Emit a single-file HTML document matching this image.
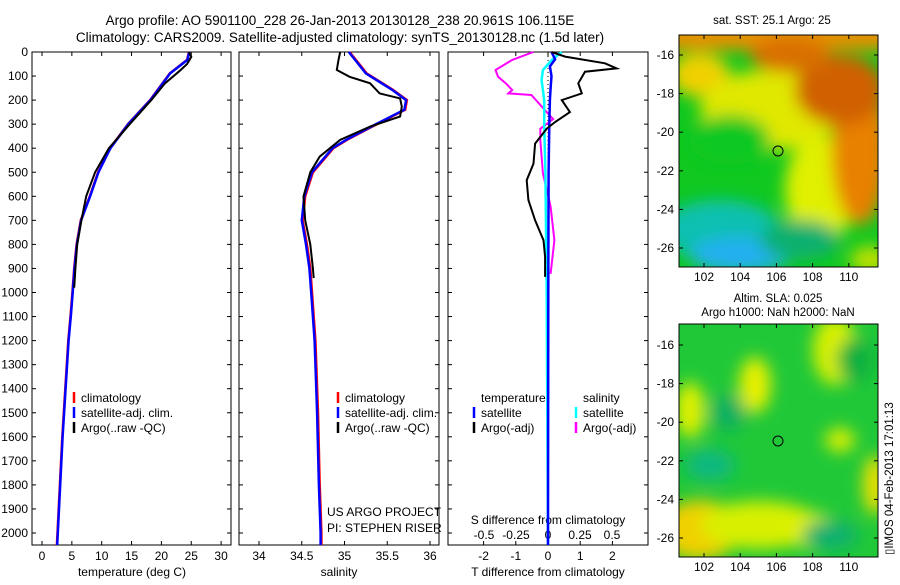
<!DOCTYPE html>
<html><head><meta charset="utf-8">
<style>
body{margin:0;background:#fff;width:900px;height:580px;overflow:hidden;font-family:"Liberation Sans",sans-serif;}
svg text{font-family:"Liberation Sans",sans-serif;fill:#000;}
</style></head>
<body>
<svg id="fig" width="900" height="580" xmlns="http://www.w3.org/2000/svg">
<defs>
<filter id="bl" x="-20%" y="-20%" width="140%" height="140%"><feGaussianBlur stdDeviation="8"/></filter>
<clipPath id="c1"><rect x="679" y="35" width="199" height="232"/></clipPath>
<clipPath id="c2"><rect x="679" y="324" width="199" height="233"/></clipPath>
</defs>
<text x="340" y="25" font-size="13.5" text-anchor="middle">Argo profile: AO 5901100_228 26-Jan-2013 20130128_238 20.961S 106.115E</text>
<text x="340" y="42" font-size="13.5" text-anchor="middle">Climatology: CARS2009. Satellite-adjusted climatology: synTS_20130128.nc (1.5d later)</text>

<g clip-path="url(#c1)">
<rect x="679" y="35" width="199" height="232" fill="#10c820"/>
<g filter="url(#bl)">
<rect x="660" y="20" width="240" height="30" fill="#e89000"/>
<ellipse cx="700" cy="75" rx="30" ry="22" fill="#f0d000"/>
<ellipse cx="770" cy="110" rx="70" ry="40" fill="#e0e800"/>
<ellipse cx="820" cy="190" rx="35" ry="55" fill="#e0f000"/>
<ellipse cx="860" cy="150" rx="28" ry="75" fill="#e88000"/>
<ellipse cx="840" cy="90" rx="45" ry="35" fill="#d06000"/>
<ellipse cx="790" cy="55" rx="40" ry="18" fill="#d87000"/>
<ellipse cx="730" cy="140" rx="40" ry="25" fill="#10c820"/>
<ellipse cx="720" cy="230" rx="60" ry="30" fill="#10c0b0"/>
<ellipse cx="740" cy="255" rx="50" ry="18" fill="#20b0f0"/>
<ellipse cx="800" cy="240" rx="40" ry="20" fill="#10b070"/>
<ellipse cx="870" cy="260" rx="20" ry="14" fill="#c0e000"/>
</g>
<circle cx="778" cy="151" r="5" fill="none" stroke="#000" stroke-width="1"/>
</g>
<rect x="679" y="35" width="199" height="232" fill="none" stroke="#000"/>
<text x="772" y="24" font-size="11.5" text-anchor="middle">sat. SST: 25.1 Argo: 25</text>

<g clip-path="url(#c2)">
<rect x="679" y="324" width="199" height="233" fill="#20c838"/>
<g filter="url(#bl)">
<ellipse cx="700" cy="530" rx="40" ry="30" fill="#f0d000"/>
<ellipse cx="760" cy="525" rx="60" ry="24" fill="#d8f000"/>
<ellipse cx="810" cy="530" rx="25" ry="18" fill="#e0f000"/>
<ellipse cx="755" cy="385" rx="16" ry="28" fill="#e8f000"/>
<ellipse cx="690" cy="410" rx="15" ry="28" fill="#e0f000"/>
<ellipse cx="835" cy="350" rx="22" ry="35" fill="#d8f000"/>
<ellipse cx="840" cy="440" rx="15" ry="12" fill="#d8f000"/>
<ellipse cx="875" cy="485" rx="12" ry="30" fill="#f0e000"/>
<ellipse cx="710" cy="465" rx="25" ry="16" fill="#10b880"/>
<ellipse cx="830" cy="535" rx="28" ry="15" fill="#10b070"/>
<ellipse cx="728" cy="413" rx="18" ry="18" fill="#10b060"/>
<ellipse cx="855" cy="360" rx="18" ry="22" fill="#10b040"/>
</g>
<circle cx="778" cy="441" r="5" fill="none" stroke="#000" stroke-width="1"/>
</g>
<rect x="679" y="324" width="199" height="233" fill="none" stroke="#000"/>
<text x="778" y="302" font-size="11.5" text-anchor="middle">Altim. SLA: 0.025</text>
<text x="778" y="316" font-size="11.5" text-anchor="middle">Argo h1000: NaN h2000: NaN</text>
<text transform="translate(893,555) rotate(-90)" font-size="11.5">▯IMOS 04-Feb-2013 17:01:13</text>
<g id="plots"></g>
</svg>
<script>
const depthTicks=[0,100,200,300,400,500,600,700,800,900,1000,1100,1200,1300,1400,1500,1600,1700,1800,1900,2000];
const tempTicks=[0,5,10,15,20,25,30];
const salTicks=[34,34.5,35,35.5,36];
const tdiffTicks=[-2,-1,0,1,2];
const sdiffTicks=[-0.5,-0.25,0,0.25,0.5];
const lonTicks=[102,104,106,108,110];
const latTicks=[-16,-18,-20,-22,-24,-26];
const climP=[0,33,89,200,300,400,500,600,700,800,900,1000,1090,1200,1400,1600,1800,2000,2050];
const climT=[24.6,24.3,21.4,18.1,14.4,11.4,9.4,8.0,6.5,5.8,5.4,5.1,4.8,4.4,3.9,3.4,3.0,2.6,2.5];
const argoTP=[0,20,50,80,130,200,300,400,500,600,700,800,900,980];
const argoT=[24.6,25.0,24.3,23.0,20.6,18.3,14.7,11.2,8.9,7.4,6.6,5.9,5.6,5.4];
const climSP=[0,89,158,200,240,300,365,400,500,600,700,800,900,1000,1200,1500,1800,2000,2050];
const climS=[35.06,35.26,35.57,35.73,35.71,35.38,35.03,34.87,34.63,34.54,34.51,34.56,34.6,34.62,34.66,34.69,34.71,34.73,34.73];
const argoSP=[0,33,75,103,130,172,193,227,268,310,365,435,500,600,700,800,900,940];
const argoS=[34.95,34.93,34.91,35.06,35.3,35.41,35.65,35.67,35.65,35.3,34.95,34.71,34.6,34.52,34.54,34.6,34.63,34.64];
const dTP=[0,19,47,68,82,130,172,200,250,291,319,381,464,533,616,700,783,852,935];
const dT=[0.11,0.53,1.77,2.13,1.15,0.94,1.05,0.43,0.68,0.22,-0.04,-0.40,-0.45,-0.66,-0.61,-0.40,-0.14,-0.09,-0.09];
const satTP=[0,30,60,100,150,200,300,500,1000,2050];
const satT=[0.11,0.22,0.06,0.11,0.08,0.06,0.04,0.02,0.01,0.0];
const dSP=[0,33,75,103,130,158,172,179,244,279,319,365,504,643,783,922];
const dS=[-0.115,-0.28,-0.41,-0.39,-0.33,-0.28,-0.31,-0.13,-0.02,0.04,-0.06,-0.06,-0.04,0.02,0.05,0.02];
const satSP=[0,33,75,117,200,300,500,1000,2050];
const satS=[0.107,0.03,-0.04,-0.05,-0.03,-0.03,-0.02,-0.01,0.0];

const NS="http://www.w3.org/2000/svg";
const root=document.getElementById('plots');
const yP=p=>52+p*0.2405;
const xT=t=>42+t*5.97;
const xS=s=>259+(s-34)*85.5;
const xD=d=>548+d*32.2;
const xSD=d=>548+d*128;
function mk(tag,attrs,parent){const e=document.createElementNS(NS,tag);for(const k in attrs)e.setAttribute(k,attrs[k]);(parent||root).appendChild(e);return e;}
function txt(x,y,s,anchor,size,parent){const t=mk('text',{x:x,y:y,'font-size':size||12,'text-anchor':anchor||'middle'},parent);t.textContent=s;return t;}
function line(vals,ps,xf,color,w,name){
  const pts=vals.map((v,i)=>xf(v).toFixed(1)+','+yP(ps[i]).toFixed(1)).join(' ');
  const l=mk('polyline',{points:pts,fill:'none',stroke:color,'stroke-width':w});
  
  
}
const panels=[[32,231],[239,439],[448,648]];
panels.forEach((pp,i)=>{
  const r=mk('rect',{x:pp[0],y:52,width:pp[1]-pp[0],height:493,fill:'none',stroke:'#000','stroke-width':1});
  
  
  depthTicks.forEach(p=>{
    mk('line',{x1:pp[0],x2:pp[0]+4,y1:yP(p),y2:yP(p),stroke:'#000'});
    mk('line',{x1:pp[1]-4,x2:pp[1],y1:yP(p),y2:yP(p),stroke:'#000'});
  });
});
depthTicks.forEach(p=>{
  const t=txt(28,yP(p)+4,String(p),'end',12);
  
  
});
function xticks(vals,f,y,pp,labelY,top){
  vals.forEach(v=>{
    const x=f(v);
    mk('line',{x1:x,x2:x,y1:545,y2:541,stroke:'#000'});
    if(top)mk('line',{x1:x,x2:x,y1:52,y2:56,stroke:'#000'});
    const t=txt(x,labelY,String(v),'middle',12);
    
    
  });
}
xticks(tempTicks,xT,545,panels[0],560,true);
xticks(salTicks,xS,545,panels[1],560,true);
xticks(tdiffTicks,xD,545,panels[2],560,true);
sdiffTicks.forEach(v=>{const t=txt(xSD(v),539,String(v),'middle',12);
  
  });
[['temperature (deg C)',132],['salinity',339],['T difference from climatology',548]].forEach(a=>{
  const t=txt(a[1],576,a[0],'middle',12);
  
  
});
let t0=txt(548,524,'S difference from climatology','middle',12);


t0=txt(327,516,'US ARGO PROJECT','start',12);


t0=txt(327,532,'PI: STEPHEN RISER','start',12);


mk('line',{x1:548,x2:548,y1:52,y2:545,stroke:'#000','stroke-dasharray':'1,3'});
line(climT,climP,xT,'#f00',2.5,'temp-climatology');
line(climT.map(v=>v+0.05),climP,xT,'#00f',2.5,'temp-satellite-adj');
line(argoT,argoTP,xT,'#000',2,'temp-argo');
line(climS,climSP,xS,'#f00',2.5,'sal-climatology');
line(climS.map(v=>v-0.01),climSP,xS,'#00f',2.5,'sal-satellite-adj');
line(argoS,argoSP,xS,'#000',2,'sal-argo');
line(dS,dSP,xSD,'#f0f',2,'s-diff-argo');
line(satS,satSP,xSD,'#0ff',2.5,'s-diff-satellite');
line(satT,satTP,xD,'#00f',2.5,'t-diff-satellite');
line(dT,dTP,xD,'#000',2,'t-diff-argo');
function leg(x,y,color,label){
  mk('line',{x1:x,x2:x,y1:y-10,y2:y+1,stroke:color,'stroke-width':2.5});
  const t=txt(x+7,y,label,'start',12);
  
  
}
[[74,'#f00','climatology'],[74,'#00f','satellite-adj. clim.'],[74,'#000','Argo(..raw -QC)']].forEach((a,i)=>leg(a[0],402+i*15,a[1],a[2]));
[[338,'#f00','climatology'],[338,'#00f','satellite-adj. clim.'],[338,'#000','Argo(..raw -QC)']].forEach((a,i)=>leg(a[0],402+i*15,a[1],a[2]));
t0=txt(481,402,'temperature','start',12);
t0=txt(583,402,'salinity','start',12);
leg(474,417,'#00f','satellite');leg(474,432,'#000','Argo(-adj)');
leg(576,417,'#0ff','satellite');leg(576,432,'#f0f','Argo(-adj)');
const mlon=v=>704+(v-102)*18.1;
[[35,267,55,248],[324,557,345,538]].forEach((m,j)=>{
  const lat=v=>m[2]+(-16-v)*(m[3]-m[2])/10;
  lonTicks.forEach(v=>{
    mk('line',{x1:mlon(v),x2:mlon(v),y1:m[0],y2:m[0]+4,stroke:'#000'});
    mk('line',{x1:mlon(v),x2:mlon(v),y1:m[1]-4,y2:m[1],stroke:'#000'});
    const t=txt(mlon(v),m[1]+14,String(v),'middle',12);
    
    
  });
  latTicks.forEach(v=>{
    mk('line',{x1:679,x2:683,y1:lat(v),y2:lat(v),stroke:'#000'});
    mk('line',{x1:874,x2:878,y1:lat(v),y2:lat(v),stroke:'#000'});
    const t=txt(674,lat(v)+4,String(v),'end',12);
    
    
  });
});
</script>
</body></html>
